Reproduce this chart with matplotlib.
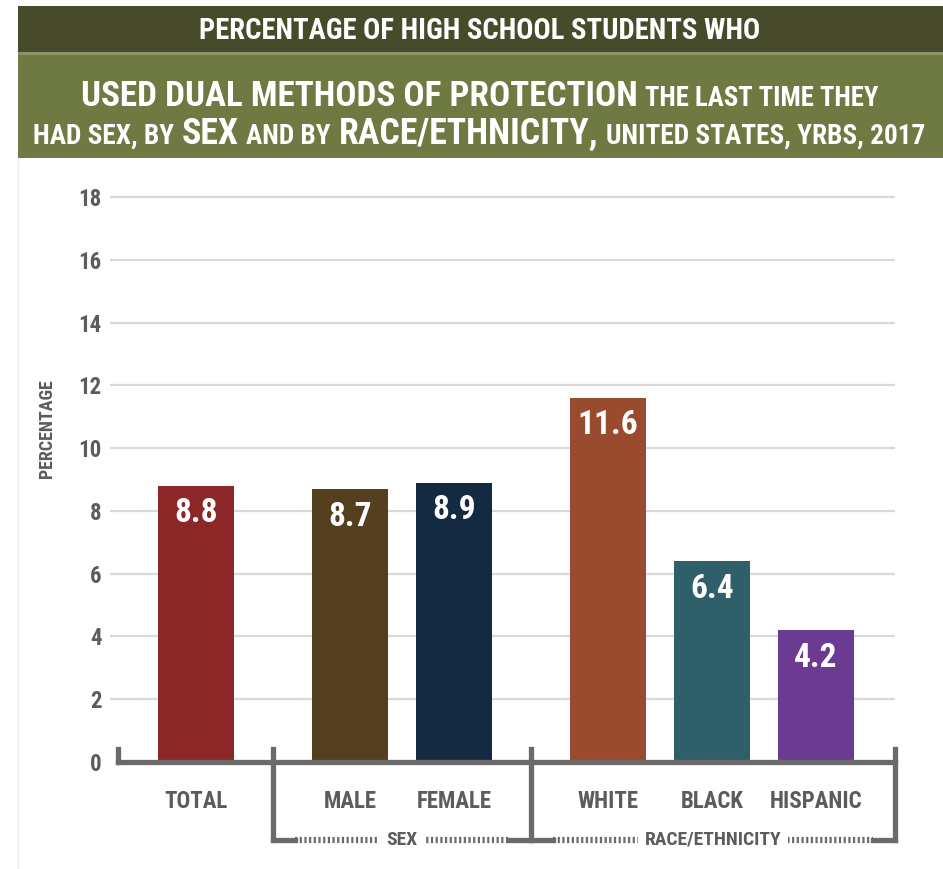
import matplotlib
matplotlib.use("Agg")
import matplotlib.pyplot as plt
from matplotlib import font_manager

# ---- data -------------------------------------------------------------
categories = ["TOTAL", "MALE", "FEMALE", "WHITE", "BLACK", "HISPANIC"]
groups = [0, 1, 1, 2, 2, 2]          # 0: total, 1: sex, 2: race/ethnicity
group_names = ["", "SEX", "RACE/ETHNICITY"]
values = [8.8, 8.7, 8.9, 11.6, 6.4, 4.2]
bar_colors = ["#8b2727", "#54401f", "#142a42", "#9a4b2f", "#2f606a", "#6b3b92"]
yticks = [0, 2, 4, 6, 8, 10, 12, 14, 16, 18]

title_top = [("PERCENTAGE OF HIGH SCHOOL STUDENTS WHO", "s")]
title_l2 = [("USED DUAL METHODS OF PROTECTION", "L"), ("THE LAST TIME THEY", "m")]
title_l3 = [("HAD SEX, BY", "m"), ("SEX", "L"), ("AND BY", "m"),
            ("RACE/ETHNICITY,", "L"), ("UNITED STATES, YRBS, 2017", "m")]

# ---- font: prefer a narrow face ---------------------------------------
names = {f.name for f in font_manager.fontManager.ttflist}
cond_stretch = {f.name for f in font_manager.fontManager.ttflist
                if str(f.stretch) in ("condensed", "semi-condensed", "extra-condensed")}
FONT = None
for cand in ["Liberation Sans Narrow", "Roboto Condensed", "Open Sans Condensed",
             "DejaVu Sans Condensed", "Noto Sans Condensed"]:
    if cand in names:
        FONT = cand
        break
STRETCH = "normal"
if FONT is None:
    for cand in ["DejaVu Sans", "Noto Sans", "Open Sans", "Roboto"]:
        if cand in cond_stretch:
            FONT = cand
            STRETCH = "condensed"
            break
if FONT is None:
    FONT = "Liberation Sans"
plt.rcParams["font.family"] = [FONT, "DejaVu Sans"]

GRAY = "#5c5c5c"
LINE = "#6a6a6a"

W, H = 943, 869
fig = plt.figure(figsize=(W / 100, H / 100), dpi=100)
fig.patch.set_facecolor("white")


def fx(px):
    return px / W


def fy(py):
    return 1 - py / H


# ---- header bands -----------------------------------------------------
hdr = fig.add_axes([0, 0, 1, 1], zorder=0)
hdr.set_xlim(0, W)
hdr.set_ylim(H, 0)
hdr.axis("off")
hdr.add_patch(plt.Rectangle((18, 6), W - 18, 46, color="#474b29", lw=0))
hdr.add_patch(plt.Rectangle((18, 52), W - 18, 3, color="#8a9464", lw=0))
hdr.add_patch(plt.Rectangle((18, 55), W - 18, 103, color="#6e7a41", lw=0))
hdr.plot([18, 18], [158, H], color="#ececec", lw=1)

SIZES = {"s": 19, "m": 20.5, "L": 27}
r = fig.canvas.get_renderer()


def title_line(runs, baseline_px, x_from, x_to):
    """Lay out mixed-size runs on one baseline and fit them between x_from and x_to."""
    texts = []
    for s, k in runs:
        t = fig.text(0, fy(baseline_px), s, color="white", fontsize=SIZES[k],
                     fontweight="bold", fontstretch=STRETCH, va="baseline", ha="left")
        texts.append(t)
    gap = 0.28 * SIZES["m"] * 100 / 72
    widths = [t.get_window_extent(r).width for t in texts]
    total = sum(widths) + gap * (len(texts) - 1)
    scale = (x_to - x_from) / total
    for t, (s, k) in zip(texts, runs):
        t.set_fontsize(SIZES[k] * scale)
    gap *= scale
    widths = [t.get_window_extent(r).width for t in texts]
    total = sum(widths) + gap * (len(texts) - 1)
    x = (x_from + x_to) / 2 - total / 2
    for t, w in zip(texts, widths):
        t.set_x(fx(x))
        x += w + gap


title_line(title_top, 39, 200, 760)
title_line(title_l2, 106, 80, 880)
title_line(title_l3, 144, 33, 925)

# ---- chart ------------------------------------------------------------
unit = 104.0          # pixels per bar slot
gap = 0.48            # extra slots between groups
xpos = [i + g * gap for i, g in enumerate(groups)]
x0_px = 196
left_px, right_px = 110, 895
px_per_val = 31.39
base_px = 762
ytop = 18.2

xl = (left_px - x0_px) / unit
xr = (right_px - x0_px) / unit
ax = fig.add_axes([fx(left_px), fy(base_px), (right_px - left_px) / W,
                   ytop * px_per_val / H], zorder=2)
ax.set_xlim(xl, xr)
ax.set_ylim(0, ytop)
ax.patch.set_alpha(0)
for sp in ax.spines.values():
    sp.set_visible(False)

ax.set_yticks(yticks)
ax.set_yticklabels([str(v) for v in yticks])
ax.tick_params(axis="y", length=0, pad=6, labelsize=16.5, labelcolor=GRAY)
for lab in ax.get_yticklabels():
    lab.set_fontweight("bold")
    lab.set_fontstretch(STRETCH)
ax.set_xticks([])
for v in yticks[1:]:
    ax.axhline(v, color="#d9d9d9", lw=1.6, zorder=0)

bw = 0.73
ax.bar(xpos, values, width=bw, color=bar_colors, zorder=2)
for x, v in zip(xpos, values):
    ax.text(x, v - 0.88, f"{v:.1f}", ha="center", va="center", color="white",
            fontsize=24, fontweight="bold", fontstretch=STRETCH, zorder=3)

ax.text(-0.08, 0.583, "PERCENTAGE", transform=ax.transAxes, rotation=90,
        ha="center", va="center", fontsize=13, fontweight="bold",
        fontstretch=STRETCH, color=GRAY)

# ---- bracket under the bars ------------------------------------------
u = 1 / px_per_val
tick_top = 13 * u
bot = -78 * u
lw_b = 3.8
left_end = xpos[0] - 0.75
divs = []
for i in range(1, len(xpos)):
    if groups[i] != groups[i - 1]:
        divs.append((xpos[i - 1] + xpos[i]) / 2)
right_end = xpos[-1] + 0.76
kw = dict(color=LINE, lw=lw_b, clip_on=False, solid_capstyle="projecting", zorder=4)
ax.plot([left_end, right_end], [0, 0], **kw)
ax.plot([left_end, left_end], [0, tick_top], **kw)
for d in divs:
    ax.plot([d, d], [bot, tick_top], **kw)
ax.plot([right_end, right_end], [bot, tick_top], **kw)

for x, c in zip(xpos, categories):
    ax.text(x, -40 * u, c, ha="center", va="center", fontsize=16.5,
            fontweight="bold", fontstretch=STRETCH, color=GRAY, clip_on=False)

# group brackets along the bottom
edges = divs + [right_end]
solid = 0.21
for gi in (1, 2):
    a, b = edges[gi - 1], edges[gi]
    ax.plot([a, a + solid], [bot, bot], **kw)
    ax.plot([b - solid, b], [bot, bot], **kw)
    ax.plot([a + solid, b - solid], [bot, bot], color=LINE, lw=4.5,
            linestyle=(0, (0.35, 0.4)), dash_capstyle="butt", clip_on=False, zorder=4)
    ax.text((a + b) / 2, bot, group_names[gi], ha="center", va="center",
            fontsize=14, fontweight="bold", fontstretch=STRETCH, color=GRAY,
            clip_on=False, zorder=5,
            bbox=dict(facecolor="white", edgecolor="none", pad=5))

fig.savefig("out.png", dpi=100, facecolor="white")
